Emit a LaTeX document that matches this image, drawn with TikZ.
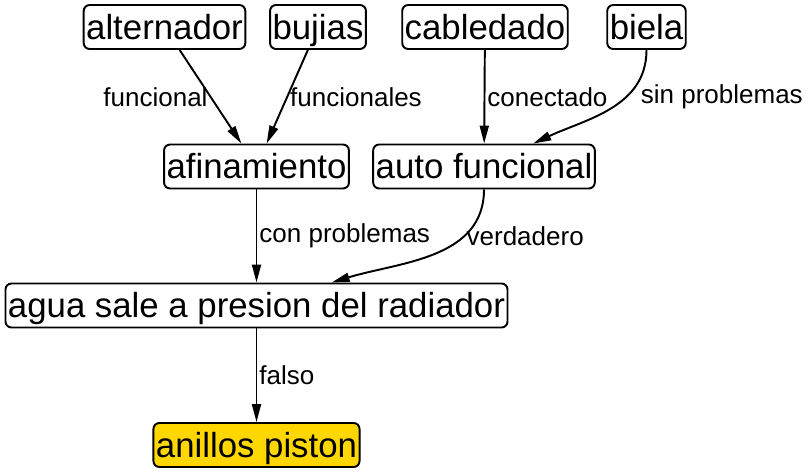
\documentclass[tikz,border=0pt]{standalone}
\usepackage{fontspec}
\setmainfont{Liberation Sans}
\usetikzlibrary{arrows.meta}
\definecolor{pistongold}{RGB}{255,215,0}

\begin{document}
\begin{tikzpicture}[x=0.02cm, y=0.02cm,
		box/.style={draw, line width=1.1pt, rounded corners=0.12cm, minimum height=0.88cm, inner xsep=0.05cm, inner ysep=0pt, text height=19pt, text depth=5pt, font=\fontsize{19.8pt}{22pt}\selectfont},
		lbl/.style={font=\fontsize{14.8pt}{16pt}\selectfont, inner sep=0.04cm},
		link/.style={-{Triangle[length=0.36cm, width=0.18cm]}, line width=1.1pt}]
		% Frame
		\useasboundingbox (0,0) rectangle (809,474);
		
		% Top row
		\node[box] (alternador) at (164.5,447) {alternador};
		\node[box] (bujias) at (318,447) {bujias};
		\node[box] (cabledado) at (485,447) {cabledado};
		\node[box] (biela) at (646.5,447) {biela};
		
		% Middle row
		\node[box] (afinamiento) at (256.5,307.5) {afinamiento};
		\node[box] (autofuncional) at (484,307.5) {auto funcional};
		
		% Lower rows
		\node[box] (agua) at (256.5,168.5) {agua sale a presion del radiador};
		\node[box, fill=pistongold] (anillos) at (256.5,29) {anillos piston};
		
		% Links
		\draw[link] (alternador) -- (afinamiento) node[lbl, midway, left] {funcional};
		\draw[link] (bujias) -- (afinamiento) node[lbl, midway, right] {funcionales};
		\draw[link] (cabledado) -- (autofuncional) node[lbl, midway, right] {conectado};
		\draw[link] (biela) to[out=-90, in=25] node[lbl, pos=0.36, right, xshift=0.24cm] {sin problemas} (autofuncional);
		\draw[link] (afinamiento) -- (agua) node[lbl, midway, right] {con problemas};
		\draw[link] (autofuncional) to[out=-90, in=17] node[lbl, pos=0.3, right] {verdadero} (agua);
		\draw[link] (agua) -- (anillos) node[lbl, midway, right] {falso};
	\end{tikzpicture}
\end{document}
